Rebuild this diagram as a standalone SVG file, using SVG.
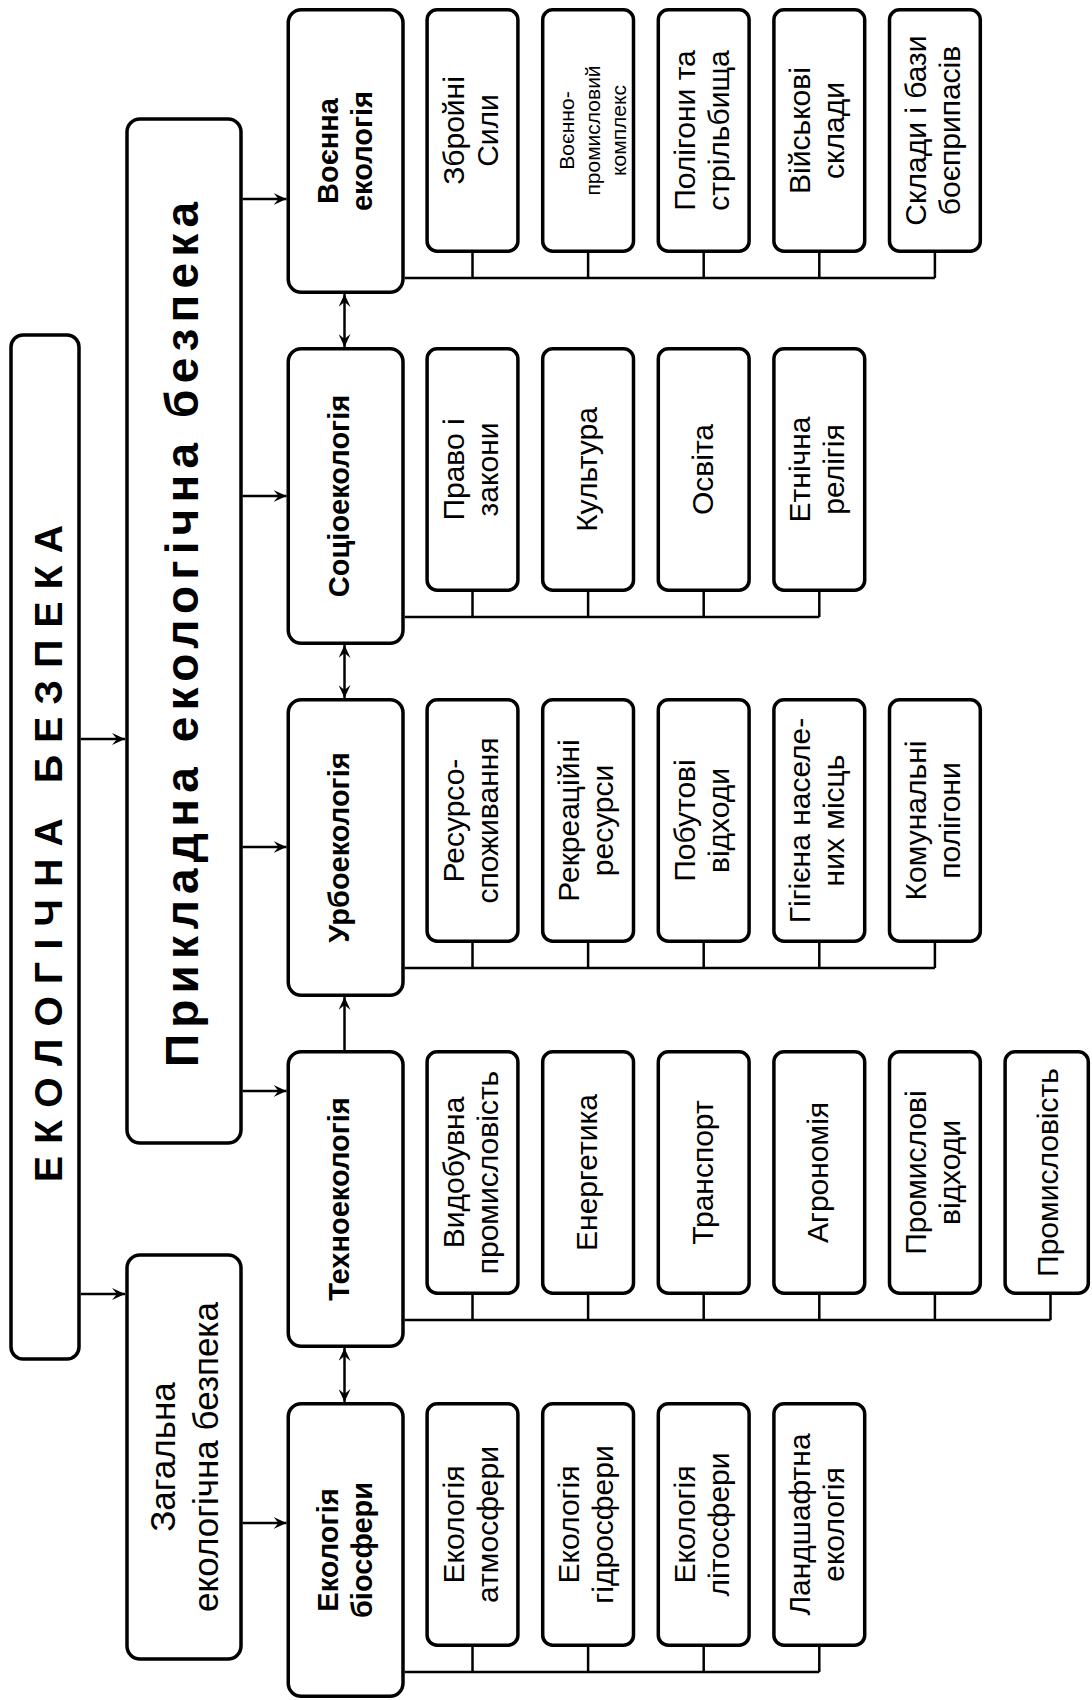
<svg xmlns="http://www.w3.org/2000/svg" width="1092" height="1700" viewBox="0 0 1092 1700">
<style>
  .box{fill:#fff;stroke:#000;stroke-width:3.5}
  .con{fill:none;stroke:#000;stroke-width:2.5}
  .arr{fill:none;stroke:#000;stroke-width:2.5}
  text{font-family:"Liberation Sans",Arial,sans-serif;fill:#000;text-anchor:middle}
  .h{font-size:29px;font-weight:bold}
  .c{font-size:30px}
  .s{font-size:21px}
  .g{font-size:35px}
  .big{font-size:46px;font-weight:bold}
  .top{font-size:39px;font-weight:bold}
</style>
<defs>
  <marker id="ah" viewBox="0 0 13 12" markerWidth="13" markerHeight="12" refX="13" refY="6" orient="auto-start-reverse" markerUnits="userSpaceOnUse">
    <path d="M0,0 L13,6 L0,12 L5,6 Z" fill="#000"/>
  </marker>
</defs>
<rect width="1092" height="1700" fill="#fff"/>

<g id="connectors">
  <!-- top-level arrows -->
  <line class="arr" x1="80.75" y1="739" x2="125" y2="739" marker-end="url(#ah)"/>
  <line class="arr" x1="80.75" y1="1294" x2="125" y2="1294" marker-end="url(#ah)"/>
  <line class="arr" x1="242.5" y1="199" x2="286.5" y2="199" marker-end="url(#ah)"/>
  <line class="arr" x1="242.5" y1="496" x2="286.5" y2="496" marker-end="url(#ah)"/>
  <line class="arr" x1="242.5" y1="847" x2="286.5" y2="847" marker-end="url(#ah)"/>
  <line class="arr" x1="242.5" y1="1091" x2="286.5" y2="1091" marker-end="url(#ah)"/>
  <line class="arr" x1="242.5" y1="1523" x2="286.5" y2="1523" marker-end="url(#ah)"/>
  <!-- between headings -->
  <line class="arr" x1="344.5" y1="294" x2="344.5" y2="347" marker-start="url(#ah)" marker-end="url(#ah)"/>
  <line class="arr" x1="344.5" y1="645" x2="344.5" y2="698" marker-start="url(#ah)" marker-end="url(#ah)"/>
  <line class="arr" x1="344.5" y1="1050" x2="344.5" y2="997" marker-end="url(#ah)"/>
  <line class="arr" x1="344.5" y1="1348" x2="344.5" y2="1402" marker-start="url(#ah)" marker-end="url(#ah)"/>
  <!-- buses row 0 -->
  <path class="con" d="M404.75,278 H934.9 M472.5,253 V278 M588.1,253 V278 M703.7,253 V278 M819.3,253 V278 M934.9,253 V278"/>
  <!-- row 1 -->
  <path class="con" d="M404.75,617 H819.3 M472.5,592 V617 M588.1,592 V617 M703.7,592 V617 M819.3,592 V617"/>
  <!-- row 2 -->
  <path class="con" d="M404.75,968 H934.9 M472.5,943 V968 M588.1,943 V968 M703.7,943 V968 M819.3,943 V968 M934.9,943 V968"/>
  <!-- row 3 -->
  <path class="con" d="M404.75,1320 H1050.5 M472.5,1295 V1320 M588.1,1295 V1320 M703.7,1295 V1320 M819.3,1295 V1320 M934.9,1295 V1320 M1050.5,1295 V1320"/>
  <!-- row 4 -->
  <path class="con" d="M404.75,1672 H819.3 M472.5,1647 V1672 M588.1,1647 V1672 M703.7,1647 V1672 M819.3,1647 V1672"/>
</g>

<g id="n-ekologichna-bezpeka">
  <rect class="box" x="11" y="335" width="68" height="1024" rx="12"/>
  <text class="top" transform="translate(62,853.5) rotate(-90)" textLength="657" lengthAdjust="spacing">ЕКОЛОГІЧНА БЕЗПЕКА</text>
</g>
<g id="n-prykladna">
  <rect class="box" x="127" y="119" width="114" height="1024" rx="13"/>
  <text class="big" transform="translate(198,634.5) rotate(-90)" textLength="865" lengthAdjust="spacing">Прикладна екологічна безпека</text>
</g>
<g id="n-zagalna">
  <rect class="box" x="127" y="1255" width="114" height="404" rx="13"/>
  <text class="g" transform="translate(183.5,1457) rotate(-90)"><tspan x="0" y="-8.5">Загальна</tspan><tspan x="0" y="34.5">екологічна безпека</tspan></text>
</g>

<!-- headings -->
<g id="n-voienna">
  <rect class="box" x="288.25" y="9.75" width="114.75" height="282.5" rx="13"/>
  <text class="h" transform="translate(345.5,151) rotate(-90)"><tspan x="0" y="-7.5">Воєнна</tspan><tspan x="0" y="26.5">екологія</tspan></text>
</g>
<g id="n-sotsio">
  <rect class="box" x="288.25" y="348.75" width="114.75" height="294.5" rx="13"/>
  <text class="h" transform="translate(349,496) rotate(-90)">Соціоекологія</text>
</g>
<g id="n-urbo">
  <rect class="box" x="288.25" y="699.75" width="114.75" height="295.5" rx="13"/>
  <text class="h" transform="translate(349,847.5) rotate(-90)">Урбоекологія</text>
</g>
<g id="n-tekhno">
  <rect class="box" x="288.25" y="1051.75" width="114.75" height="294.5" rx="13"/>
  <text class="h" transform="translate(349,1199) rotate(-90)">Техноекологія</text>
</g>
<g id="n-biosfera">
  <rect class="box" x="288.25" y="1403.75" width="114.75" height="292.5" rx="13"/>
  <text class="h" transform="translate(345.5,1550) rotate(-90)"><tspan x="0" y="-7.5">Екологія</tspan><tspan x="0" y="26.5">біосфери</tspan></text>
</g>

<!-- row 0 children -->
<g id="n-zbroini-syly">
  <rect class="box" x="427.1" y="9.75" width="90.8" height="241.5" rx="10"/>
  <text class="c" transform="translate(472.5,130.5) rotate(-90)"><tspan x="0" y="-9">Збройні</tspan><tspan x="0" y="25">Сили</tspan></text>
</g>
<g id="n-vpk">
  <rect class="box" x="542.7" y="9.75" width="90.8" height="241.5" rx="10"/>
  <text class="s" transform="translate(588.1,130.5) rotate(-90)"><tspan x="0" y="-14">Воєнно-</tspan><tspan x="0" y="12">промисловий</tspan><tspan x="0" y="38">комплекс</tspan></text>
</g>
<g id="n-polihony">
  <rect class="box" x="658.3" y="9.75" width="90.8" height="241.5" rx="10"/>
  <text class="c" transform="translate(703.7,130.5) rotate(-90)"><tspan x="0" y="-9">Полігони та</tspan><tspan x="0" y="25">стрільбища</tspan></text>
</g>
<g id="n-viiskovi-sklady">
  <rect class="box" x="773.9" y="9.75" width="90.8" height="241.5" rx="10"/>
  <text class="c" transform="translate(819.3,130.5) rotate(-90)"><tspan x="0" y="-9">Військові</tspan><tspan x="0" y="25">склади</tspan></text>
</g>
<g id="n-sklady-bazy">
  <rect class="box" x="889.5" y="9.75" width="90.8" height="241.5" rx="10"/>
  <text class="c" transform="translate(934.9,130.5) rotate(-90)"><tspan x="0" y="-9">Склади і бази</tspan><tspan x="0" y="25">боєприпасів</tspan></text>
</g>

<!-- row 1 children -->
<g id="n-pravo">
  <rect class="box" x="427.1" y="348.75" width="90.8" height="241.5" rx="10"/>
  <text class="c" transform="translate(472.5,469.5) rotate(-90)"><tspan x="0" y="-9">Право і</tspan><tspan x="0" y="25">закони</tspan></text>
</g>
<g id="n-kultura">
  <rect class="box" x="542.7" y="348.75" width="90.8" height="241.5" rx="10"/>
  <text class="c" transform="translate(588.1,469.5) rotate(-90)"><tspan x="0" y="9">Культура</tspan></text>
</g>
<g id="n-osvita">
  <rect class="box" x="658.3" y="348.75" width="90.8" height="241.5" rx="10"/>
  <text class="c" transform="translate(703.7,469.5) rotate(-90)"><tspan x="0" y="9">Освіта</tspan></text>
</g>
<g id="n-etnichna">
  <rect class="box" x="773.9" y="348.75" width="90.8" height="241.5" rx="10"/>
  <text class="c" transform="translate(819.3,469.5) rotate(-90)"><tspan x="0" y="-9">Етнічна</tspan><tspan x="0" y="25">релігія</tspan></text>
</g>

<!-- row 2 children -->
<g id="n-resurso">
  <rect class="box" x="427.1" y="699.75" width="90.8" height="241.5" rx="10"/>
  <text class="c" transform="translate(472.5,820.5) rotate(-90)"><tspan x="0" y="-9">Ресурсо-</tspan><tspan x="0" y="25">споживання</tspan></text>
</g>
<g id="n-rekreatsiini">
  <rect class="box" x="542.7" y="699.75" width="90.8" height="241.5" rx="10"/>
  <text class="c" transform="translate(588.1,820.5) rotate(-90)"><tspan x="0" y="-9">Рекреаційні</tspan><tspan x="0" y="25">ресурси</tspan></text>
</g>
<g id="n-pobutovi">
  <rect class="box" x="658.3" y="699.75" width="90.8" height="241.5" rx="10"/>
  <text class="c" transform="translate(703.7,820.5) rotate(-90)"><tspan x="0" y="-9">Побутові</tspan><tspan x="0" y="25">відходи</tspan></text>
</g>
<g id="n-hihiiena">
  <rect class="box" x="773.9" y="699.75" width="90.8" height="241.5" rx="10"/>
  <text class="c" transform="translate(819.3,820.5) rotate(-90)"><tspan x="0" y="-9">Гігієна населе-</tspan><tspan x="0" y="25">них місць</tspan></text>
</g>
<g id="n-komunalni">
  <rect class="box" x="889.5" y="699.75" width="90.8" height="241.5" rx="10"/>
  <text class="c" transform="translate(934.9,820.5) rotate(-90)"><tspan x="0" y="-9">Комунальні</tspan><tspan x="0" y="25">полігони</tspan></text>
</g>

<!-- row 3 children -->
<g id="n-vydobuvna">
  <rect class="box" x="427.1" y="1051.75" width="90.8" height="241.5" rx="10"/>
  <text class="c" transform="translate(472.5,1172.5) rotate(-90)"><tspan x="0" y="-9">Видобувна</tspan><tspan x="0" y="25">промисловість</tspan></text>
</g>
<g id="n-enerhetyka">
  <rect class="box" x="542.7" y="1051.75" width="90.8" height="241.5" rx="10"/>
  <text class="c" transform="translate(588.1,1172.5) rotate(-90)"><tspan x="0" y="9">Енергетика</tspan></text>
</g>
<g id="n-transport">
  <rect class="box" x="658.3" y="1051.75" width="90.8" height="241.5" rx="10"/>
  <text class="c" transform="translate(703.7,1172.5) rotate(-90)"><tspan x="0" y="9">Транспорт</tspan></text>
</g>
<g id="n-ahronomiia">
  <rect class="box" x="773.9" y="1051.75" width="90.8" height="241.5" rx="10"/>
  <text class="c" transform="translate(819.3,1172.5) rotate(-90)"><tspan x="0" y="9">Агрономія</tspan></text>
</g>
<g id="n-promyslovi-vidkhody">
  <rect class="box" x="889.5" y="1051.75" width="90.8" height="241.5" rx="10"/>
  <text class="c" transform="translate(934.9,1172.5) rotate(-90)"><tspan x="0" y="-9">Промислові</tspan><tspan x="0" y="25">відходи</tspan></text>
</g>
<g id="n-promyslovist">
  <rect class="box" x="1005.1" y="1051.75" width="83.2" height="241.5" rx="10"/>
  <text class="c" transform="translate(1049,1172.5) rotate(-90)"><tspan x="0" y="9">Промисловість</tspan></text>
</g>

<!-- row 4 children -->
<g id="n-atmosfera">
  <rect class="box" x="427.1" y="1403.75" width="90.8" height="241.5" rx="10"/>
  <text class="c" transform="translate(472.5,1524.5) rotate(-90)"><tspan x="0" y="-9">Екологія</tspan><tspan x="0" y="25">атмосфери</tspan></text>
</g>
<g id="n-hidrosfera">
  <rect class="box" x="542.7" y="1403.75" width="90.8" height="241.5" rx="10"/>
  <text class="c" transform="translate(588.1,1524.5) rotate(-90)"><tspan x="0" y="-9">Екологія</tspan><tspan x="0" y="25">гідросфери</tspan></text>
</g>
<g id="n-litosfera">
  <rect class="box" x="658.3" y="1403.75" width="90.8" height="241.5" rx="10"/>
  <text class="c" transform="translate(703.7,1524.5) rotate(-90)"><tspan x="0" y="-9">Екологія</tspan><tspan x="0" y="25">літосфери</tspan></text>
</g>
<g id="n-landshaftna">
  <rect class="box" x="773.9" y="1403.75" width="90.8" height="241.5" rx="10"/>
  <text class="c" transform="translate(819.3,1524.5) rotate(-90)"><tspan x="0" y="-9">Ландшафтна</tspan><tspan x="0" y="25">екологія</tspan></text>
</g>
</svg>
